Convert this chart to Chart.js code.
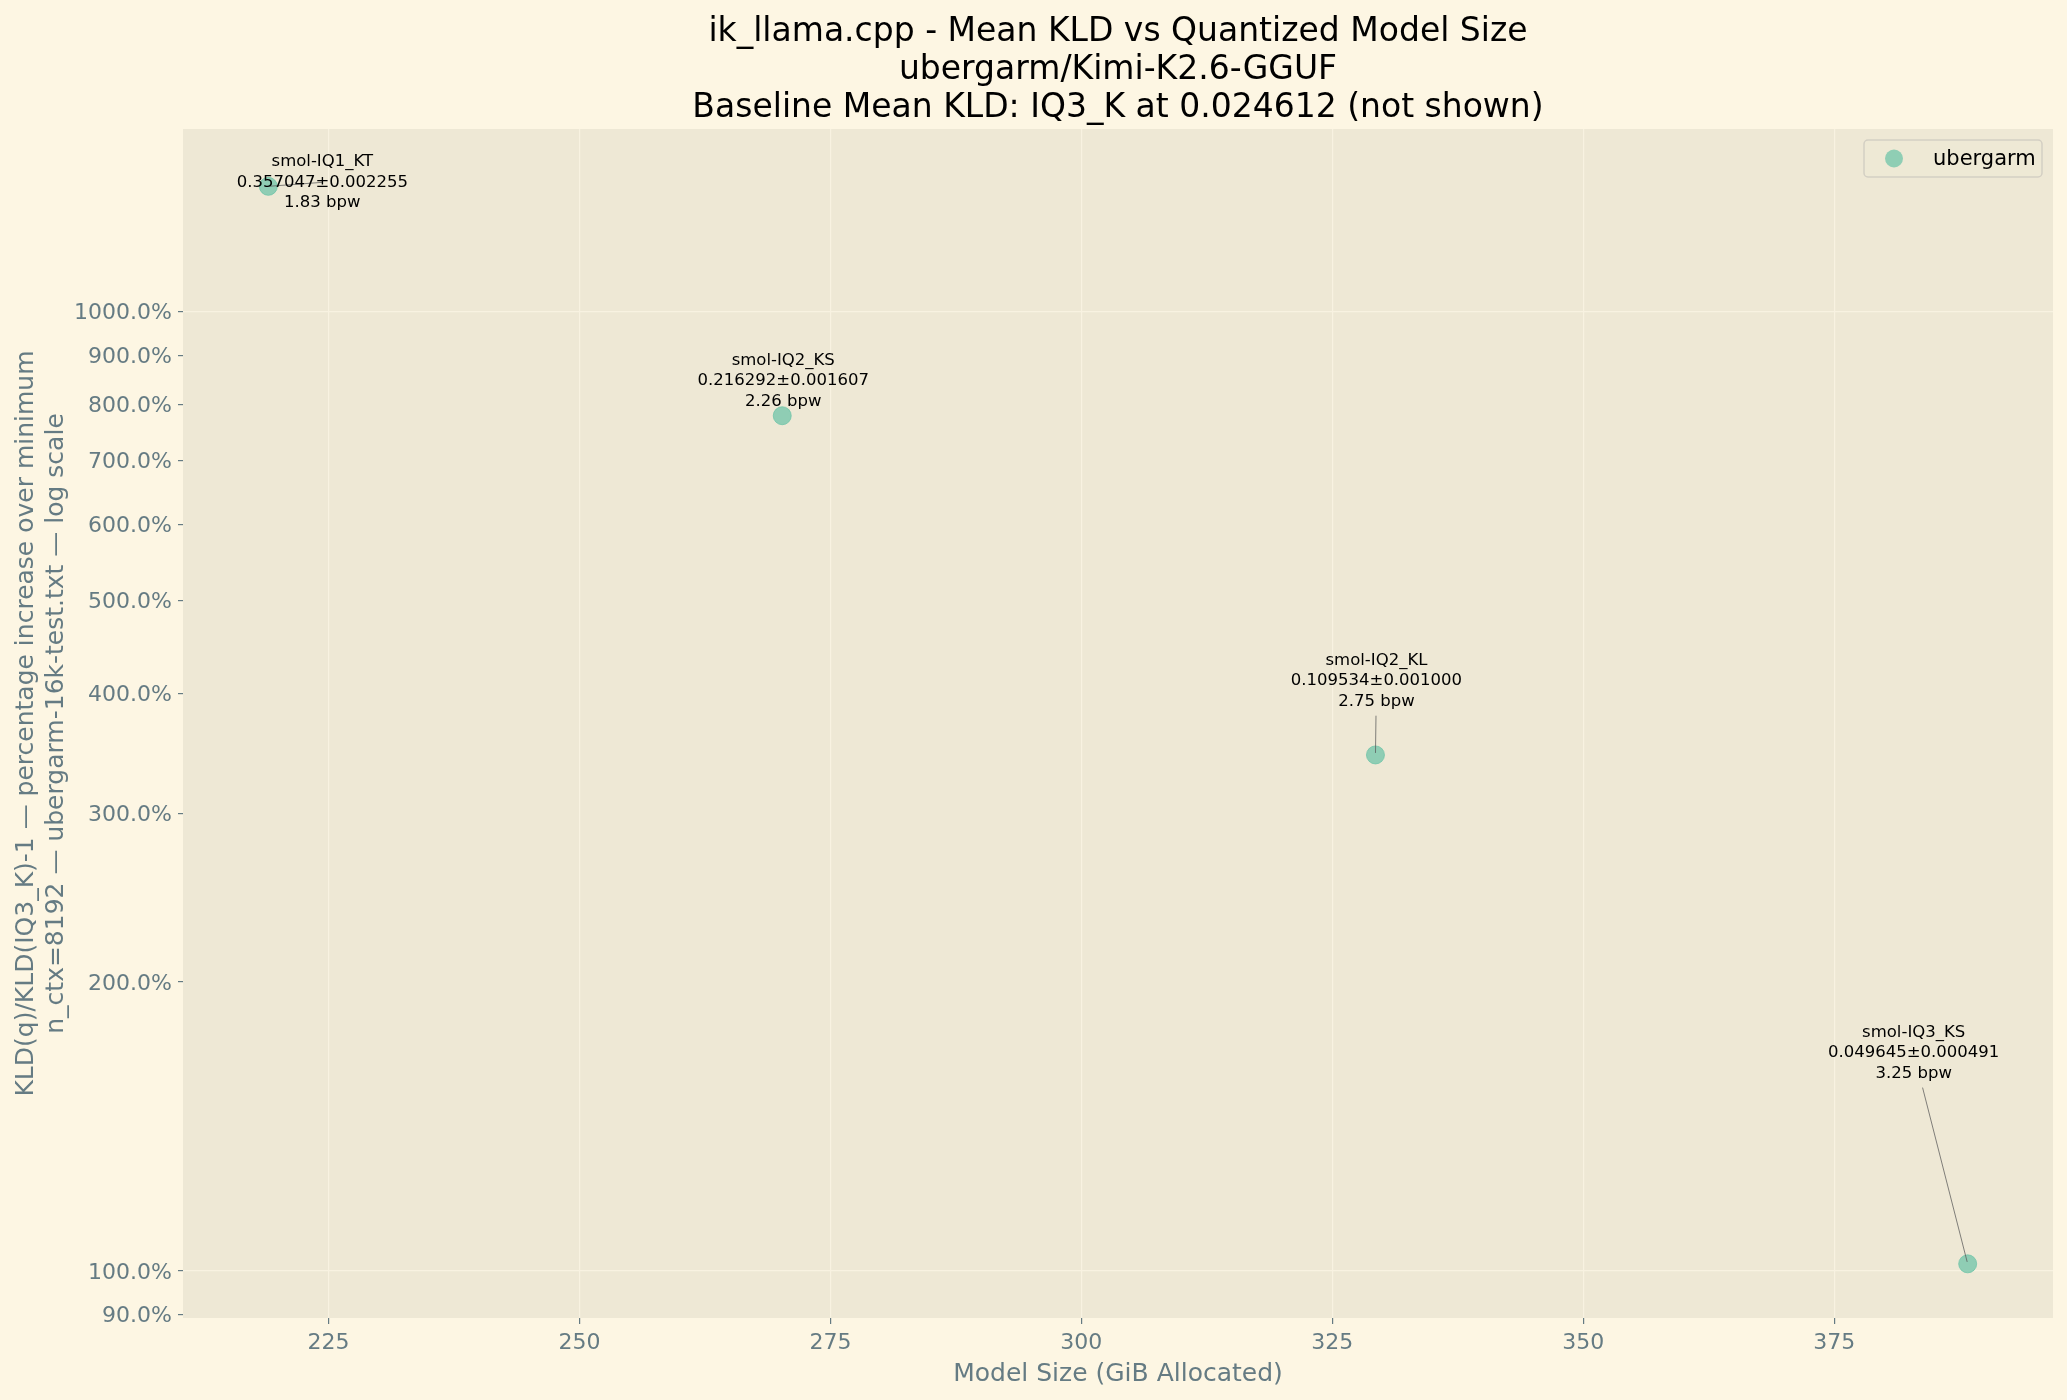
<!DOCTYPE html>
<html>
<head>
<meta charset="utf-8">
<script src="https://cdn.jsdelivr.net/npm/chart.js@4.4.1/dist/chart.umd.min.js"></script>
<style>
  html, body { margin: 0; padding: 0; background: #fdf6e3; }
  #wrap { width: 2067px; height: 1400px; }
</style>
</head>
<body>
<div id="wrap"><canvas id="c" width="2067" height="1400"></canvas></div>
<script>
// Values
const quantNames  = ['smol-IQ1_KT', 'smol-IQ2_KS', 'smol-IQ2_KL', 'smol-IQ3_KS'];
const sizeGiB     = [219.0, 270.2, 329.3, 388.3];
const pctIncrease = [1350.7, 778.8, 345.0, 101.7];
const meanKld     = ['0.357047', '0.216292', '0.109534', '0.049645'];
const kldErr      = ['0.002255', '0.001607', '0.001000', '0.000491'];
const bpw         = ['1.83', '2.26', '2.75', '3.25'];

const yTickValues = [90, 100, 200, 300, 400, 500, 600, 700, 800, 900, 1000];
const yMajorTicks = [100, 1000];
const xTickValues = [225, 250, 275, 300, 325, 350, 375];

const seriesLabel = 'ubergarm';
const titleLines = [
  'ik_llama.cpp - Mean KLD vs Quantized Model Size',
  'ubergarm/Kimi-K2.6-GGUF',
  'Baseline Mean KLD: IQ3_K at 0.024612 (not shown)'
];
const yTitleLines = [
  'KLD(q)/KLD(IQ3_K)-1 \u2014 percentage increase over minimum',
  'n_ctx=8192 \u2014 ubergarm-16k-test.txt \u2014 log scale'
];
const xTitle = 'Model Size (GiB Allocated)';

// where each label block sits relative to its point (px, middle line centre)
const labelOffsets = [[54, -4], [1, -35], [1, -74], [-54, -211]];

const FONT = '"DejaVu Sans", sans-serif';
const DIM = '#657b83';
const GRID = '#f8f2e1';
const DOT = 'rgba(102, 194, 165, 0.7)';
const LINE_H = 20.5;

const backdrop = {
  id: 'backdrop',
  beforeDraw(chart) {
    const { ctx, chartArea: a } = chart;
    ctx.save();
    ctx.fillStyle = '#fdf6e3';
    ctx.fillRect(0, 0, chart.width, chart.height);
    ctx.fillStyle = '#eee8d5';
    ctx.fillRect(a.left, a.top, a.right - a.left, a.bottom - a.top);
    ctx.restore();
  },
  afterDraw(chart) {
    const { ctx, chartArea: a } = chart;
    const cx = (a.left + a.right) / 2;
    const cy = (a.top + a.bottom) / 2;
    ctx.save();

    // title
    ctx.fillStyle = '#000';
    ctx.font = '33px ' + FONT;
    ctx.textAlign = 'center';
    ctx.textBaseline = 'alphabetic';
    [41, 79, 117].forEach((y, i) => ctx.fillText(titleLines[i], cx, y));

    // axis titles
    ctx.fillStyle = DIM;
    ctx.font = '25px ' + FONT;
    ctx.fillText(xTitle, cx, 1381);
    ctx.textBaseline = 'middle';
    [26, 56].forEach((x, i) => {
      ctx.save();
      ctx.translate(x, cy);
      ctx.rotate(-Math.PI / 2);
      ctx.fillText(yTitleLines[i], 0, 0);
      ctx.restore();
    });

    // legend box (upper right)
    const bx = a.right - 189, by = a.top + 11, bw = 178, bh = 37;
    ctx.beginPath();
    ctx.roundRect(bx, by, bw, bh, 4);
    ctx.fillStyle = 'rgba(238, 232, 213, 0.8)';
    ctx.fill();
    ctx.strokeStyle = '#d3cfc3';
    ctx.lineWidth = 1.5;
    ctx.stroke();
    ctx.beginPath();
    ctx.arc(bx + 30, by + bh / 2, 9, 0, Math.PI * 2);
    ctx.fillStyle = DOT;
    ctx.fill();
    ctx.fillStyle = '#000';
    ctx.font = '21px ' + FONT;
    ctx.textAlign = 'left';
    ctx.fillText(seriesLabel, bx + 69, by + bh / 2 + 1);
    ctx.restore();
  }
};

const pointLabels = {
  id: 'pointLabels',
  afterDatasetsDraw(chart) {
    const ctx = chart.ctx;
    const pts = chart.getDatasetMeta(0).data;
    ctx.save();
    ctx.font = '16.5px ' + FONT;
    pts.forEach((p, i) => {
      const lines = [quantNames[i], `${meanKld[i]}\u00b1${kldErr[i]}`, `${bpw[i]} bpw`];
      const [dx, dy] = labelOffsets[i];
      const cx = p.x + dx, cy = p.y + dy;
      const w = Math.max(...lines.map(t => ctx.measureText(t).width));
      const pad = 4;
      const x0 = cx - w / 2 - pad, x1 = cx + w / 2 + pad;
      const y0 = cy - 1.5 * LINE_H - pad, y1 = cy + 1.5 * LINE_H + pad;

      // connector: from the label box edge to the point (or from centre if the point sits in the box)
      let sx = cx, sy = cy;
      const vx = p.x - cx, vy = p.y - cy;
      const inside = p.x > x0 && p.x < x1 && p.y > y0 && p.y < y1;
      if (!inside) {
        let t = Infinity;
        if (vx) t = Math.min(t, ((vx > 0 ? x1 : x0) - cx) / vx);
        if (vy) t = Math.min(t, ((vy > 0 ? y1 : y0) - cy) / vy);
        sx = cx + vx * t; sy = cy + vy * t;
      }
      const len = Math.hypot(p.x - sx, p.y - sy);
      if (len > 3) {
        const ex = p.x - (p.x - sx) / len * 2, ey = p.y - (p.y - sy) / len * 2;
        ctx.beginPath();
        ctx.moveTo(sx, sy);
        ctx.lineTo(ex, ey);
        ctx.strokeStyle = 'rgba(90, 90, 90, 0.75)';
        ctx.lineWidth = 1;
        ctx.stroke();
      }

      ctx.fillStyle = '#000';
      ctx.textAlign = 'center';
      ctx.textBaseline = 'middle';
      lines.forEach((t, k) => ctx.fillText(t, cx, cy + (k - 1) * LINE_H));
    });
    ctx.restore();
  }
};

new Chart(document.getElementById('c'), {
  type: 'scatter',
  data: {
    datasets: [{
      label: seriesLabel,
      data: sizeGiB.map((x, i) => ({ x, y: pctIncrease[i] })),
      backgroundColor: DOT,
      borderColor: DOT,
      borderWidth: 1,
      pointRadius: 9,
      pointHoverRadius: 9
    }]
  },
  options: {
    responsive: false,
    devicePixelRatio: 1,
    animation: false,
    events: [],
    layout: { padding: { top: 129, right: 14, left: 0, bottom: 0 } },
    plugins: {
      legend: { display: false },
      title: { display: false },
      tooltip: { enabled: false }
    },
    scales: {
      x: {
        type: 'linear',
        min: 210.5, max: 396.8, bounds: 'data',
        afterBuildTicks: s => { s.ticks = xTickValues.map(v => ({ value: v })); },
        afterFit: s => { s.height = 82; },
        border: { display: false },
        grid: { color: GRID, lineWidth: 1.2, tickColor: DIM, tickLength: 6 },
        ticks: {
          color: DIM, padding: 6, autoSkip: false, maxRotation: 0,
          font: { family: FONT, size: 22 },
          callback: v => String(v)
        }
      },
      y: {
        type: 'logarithmic',
        min: 89.3, max: 1550, bounds: 'data',
        afterBuildTicks: s => { s.ticks = yTickValues.map(v => ({ value: v })); },
        afterFit: s => { s.width = 183; },
        border: { display: false },
        grid: {
          color: c => (c.tick && yMajorTicks.includes(c.tick.value)) ? GRID : 'rgba(0,0,0,0)',
          lineWidth: 1.2,
          tickColor: DIM,
          tickLength: 5
        },
        ticks: {
          color: DIM, padding: 6, autoSkip: false, labelOffset: 2,
          font: { family: FONT, size: 22 },
          callback: v => Number(v).toFixed(1) + '%'
        }
      }
    }
  },
  plugins: [backdrop, pointLabels]
});
</script>
</body>
</html>
